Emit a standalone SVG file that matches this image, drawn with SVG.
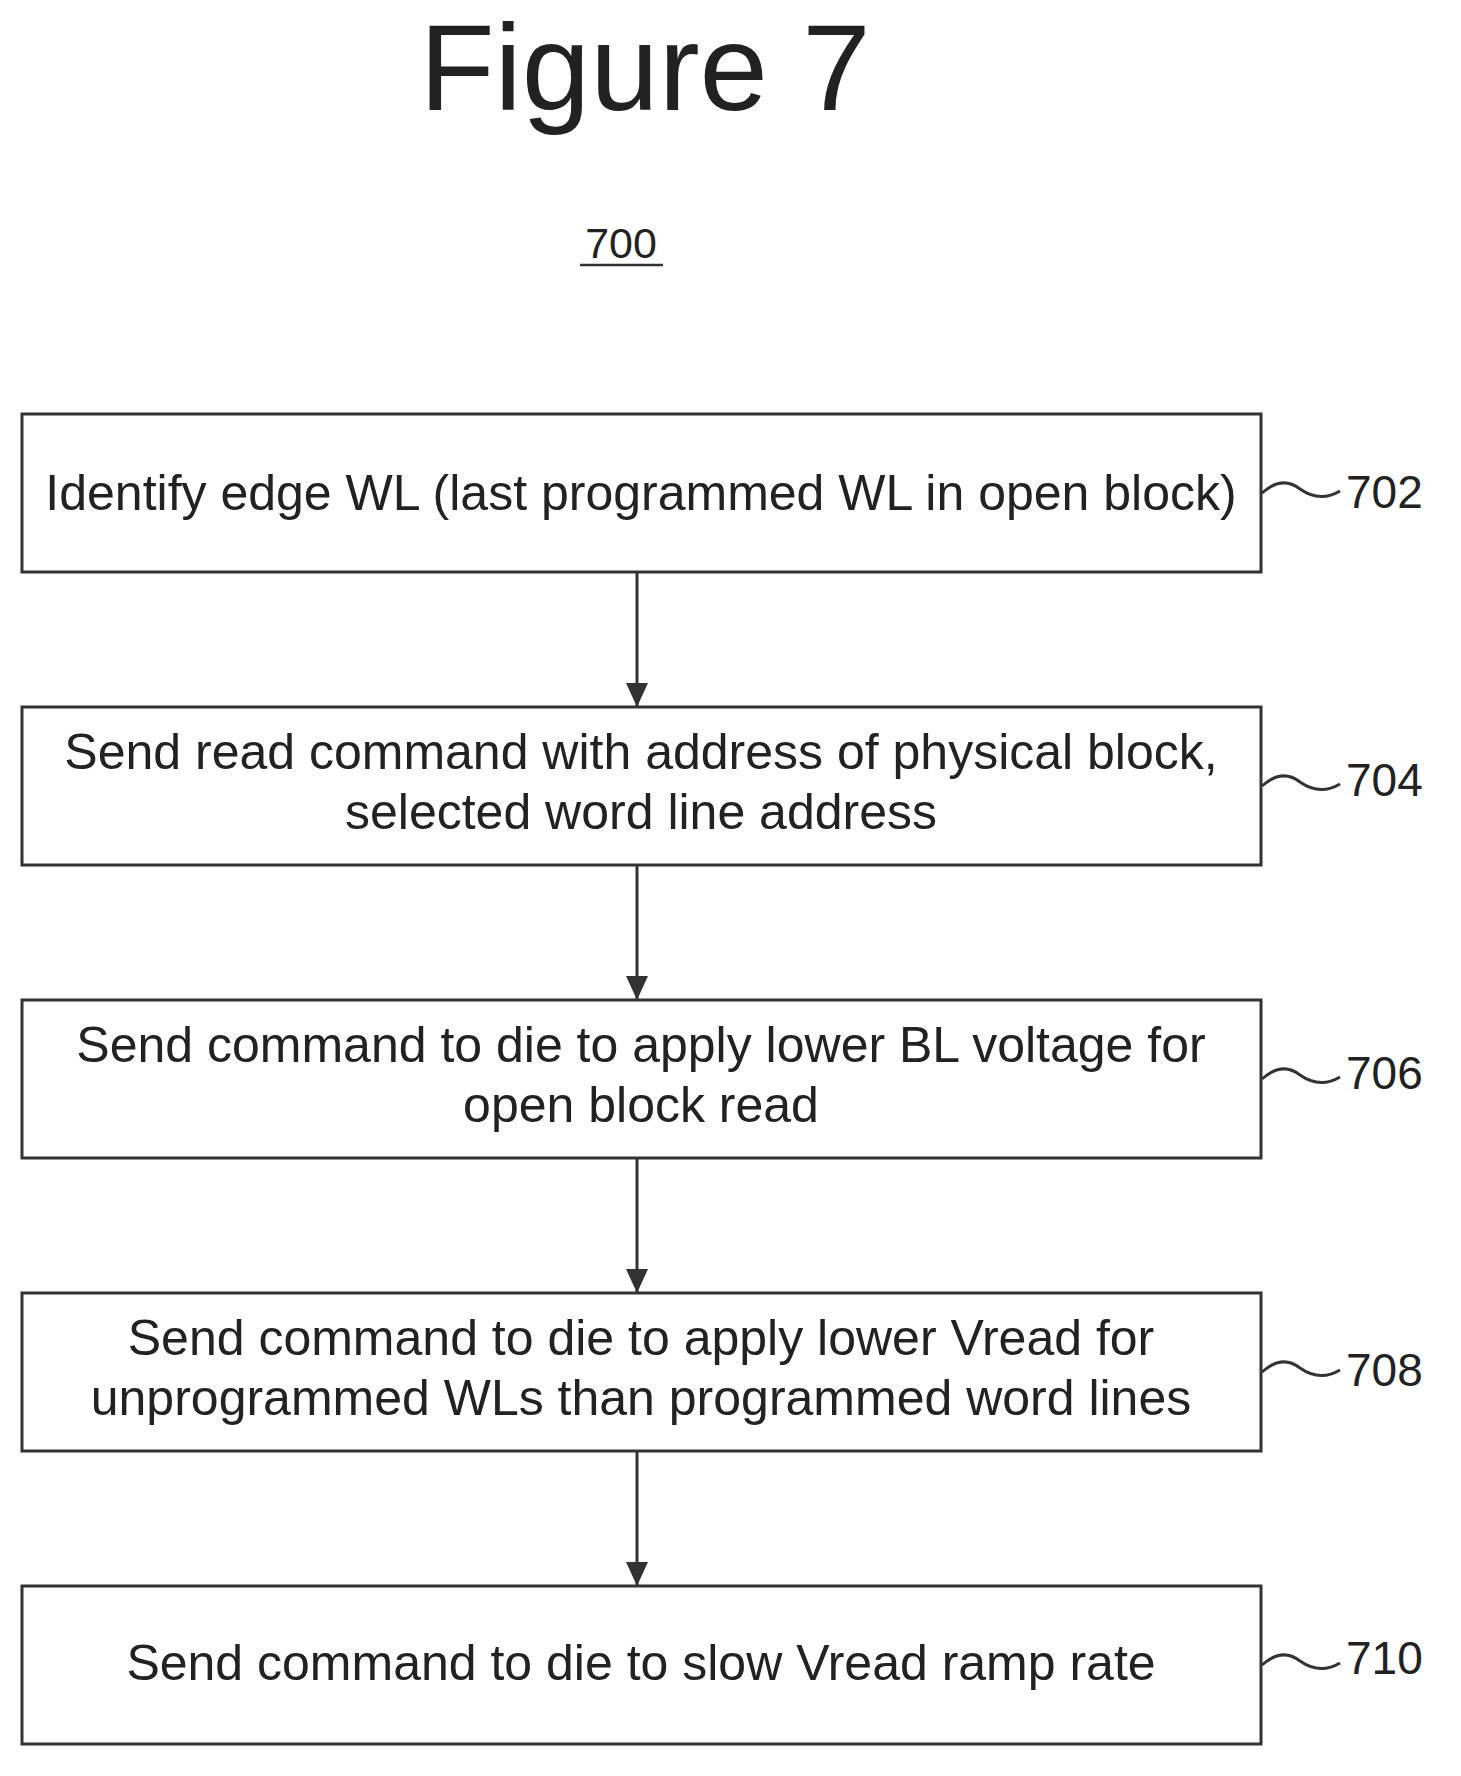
<svg xmlns="http://www.w3.org/2000/svg" width="1461" height="1776" viewBox="0 0 1461 1776">
<style>
text{font-family:"Liberation Sans",Arial,sans-serif;fill:#222}
.box{fill:#fff;stroke:#333;stroke-width:3}
.t{font-size:50px;text-anchor:middle}
.n{font-size:46px}
.c{fill:none;stroke:#333;stroke-width:3}
</style>
<defs><marker id="a" markerWidth="26" markerHeight="26" refX="24" refY="13" orient="auto" markerUnits="userSpaceOnUse"><path d="M0,2 L24,13 L0,24 z" fill="#333"/></marker></defs>
<rect width="1461" height="1776" fill="#fff"/>
<text x="645" y="110" font-size="123" text-anchor="middle">Figure 7</text>
<text x="621" y="258" font-size="43" text-anchor="middle">700</text>
<line x1="580" y1="265" x2="663" y2="265" stroke="#333" stroke-width="2.5"/>
<g id="connectors">
<line class="c" x1="637" y1="572" x2="637" y2="707" marker-end="url(#a)"/>
<line class="c" x1="637" y1="865" x2="637" y2="1000" marker-end="url(#a)"/>
<line class="c" x1="637" y1="1158" x2="637" y2="1293" marker-end="url(#a)"/>
<line class="c" x1="637" y1="1451" x2="637" y2="1586" marker-end="url(#a)"/>
<path class="c" d="M1262,493 q20,-18 38,-4 q20,14 40,2"/>
<path class="c" d="M1262,786 q20,-18 38,-4 q20,14 40,2"/>
<path class="c" d="M1262,1079 q20,-18 38,-4 q20,14 40,2"/>
<path class="c" d="M1262,1372 q20,-18 38,-4 q20,14 40,2"/>
<path class="c" d="M1262,1665 q20,-18 38,-4 q20,14 40,2"/>
</g>
<g id="n702"><rect class="box" x="22" y="414" width="1239" height="158"/><text class="t" x="641" y="510">Identify edge WL (last programmed WL in open block)</text><text class="n" x="1346" y="508">702</text></g>
<g id="n704"><rect class="box" x="22" y="707" width="1239" height="158"/><text class="t" x="641" y="769">Send read command with address of physical block,</text><text class="t" x="641" y="829">selected word line address</text><text class="n" x="1346" y="796">704</text></g>
<g id="n706"><rect class="box" x="22" y="1000" width="1239" height="158"/><text class="t" x="641" y="1062">Send command to die to apply lower BL voltage for</text><text class="t" x="641" y="1122">open block read</text><text class="n" x="1346" y="1089">706</text></g>
<g id="n708"><rect class="box" x="22" y="1293" width="1239" height="158"/><text class="t" x="641" y="1355">Send command to die to apply lower Vread for</text><text class="t" x="641" y="1415">unprogrammed WLs than programmed word lines</text><text class="n" x="1346" y="1386">708</text></g>
<g id="n710"><rect class="box" x="22" y="1586" width="1239" height="158"/><text class="t" x="641" y="1680">Send command to die to slow Vread ramp rate</text><text class="n" x="1346" y="1674">710</text></g>
</svg>
